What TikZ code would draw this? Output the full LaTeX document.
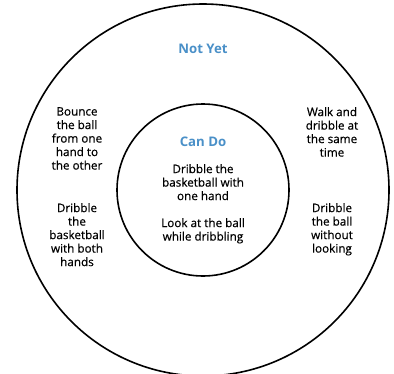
\documentclass[tikz,border=0pt]{standalone}
\usepackage{fontspec}
\setmainfont{Open Sans}
\newfontfamily\medfont[FakeBold=0.5]{Open Sans}
\definecolor{headblue}{HTML}{4A90C8}
\begin{document}
\begin{tikzpicture}[x=1pt,y=-1pt,
  ring/.style={draw=black,line width=1.6pt},
  head/.style={font=\fontsize{13.2}{16}\selectfont\bfseries,text=headblue,inner sep=0pt},
  item/.style={font=\medfont\fontsize{11.7}{13.5}\selectfont,align=center,inner sep=0pt}]
\useasboundingbox (0,0) rectangle (394,373);
\clip (0,0) rectangle (394,373);
\fill[white] (0,0) rectangle (394,373);
\node[ring,circle,minimum size=372pt,inner sep=0pt] (outer) at (203,190) {};
\node[ring,circle,minimum size=172pt,inner sep=0pt] (inner) at (203,190) {};
\node[head] (notyet) at (203,49) {Not Yet};
\node[head] (cando) at (203,142) {Can Do};
\node[item,anchor=north] (c1) at (203,164) {Dribble the\\basketball with\\one hand};
\node[item,anchor=north] (c2) at (203,218) {Look at the ball\\while dribbling};
\node[item,anchor=north] (l1) at (77,107) {Bounce\\the ball\\from one\\hand to\\the other};
\node[item,anchor=north] (l2) at (77,203) {Dribble\\the\\basketball\\with both\\hands};
\node[item,anchor=north] (r1) at (332,107) {Walk and\\dribble at\\the same\\time};
\node[item,anchor=north] (r2) at (332,203) {Dribble\\the ball\\without\\looking};
\end{tikzpicture}
\end{document}
